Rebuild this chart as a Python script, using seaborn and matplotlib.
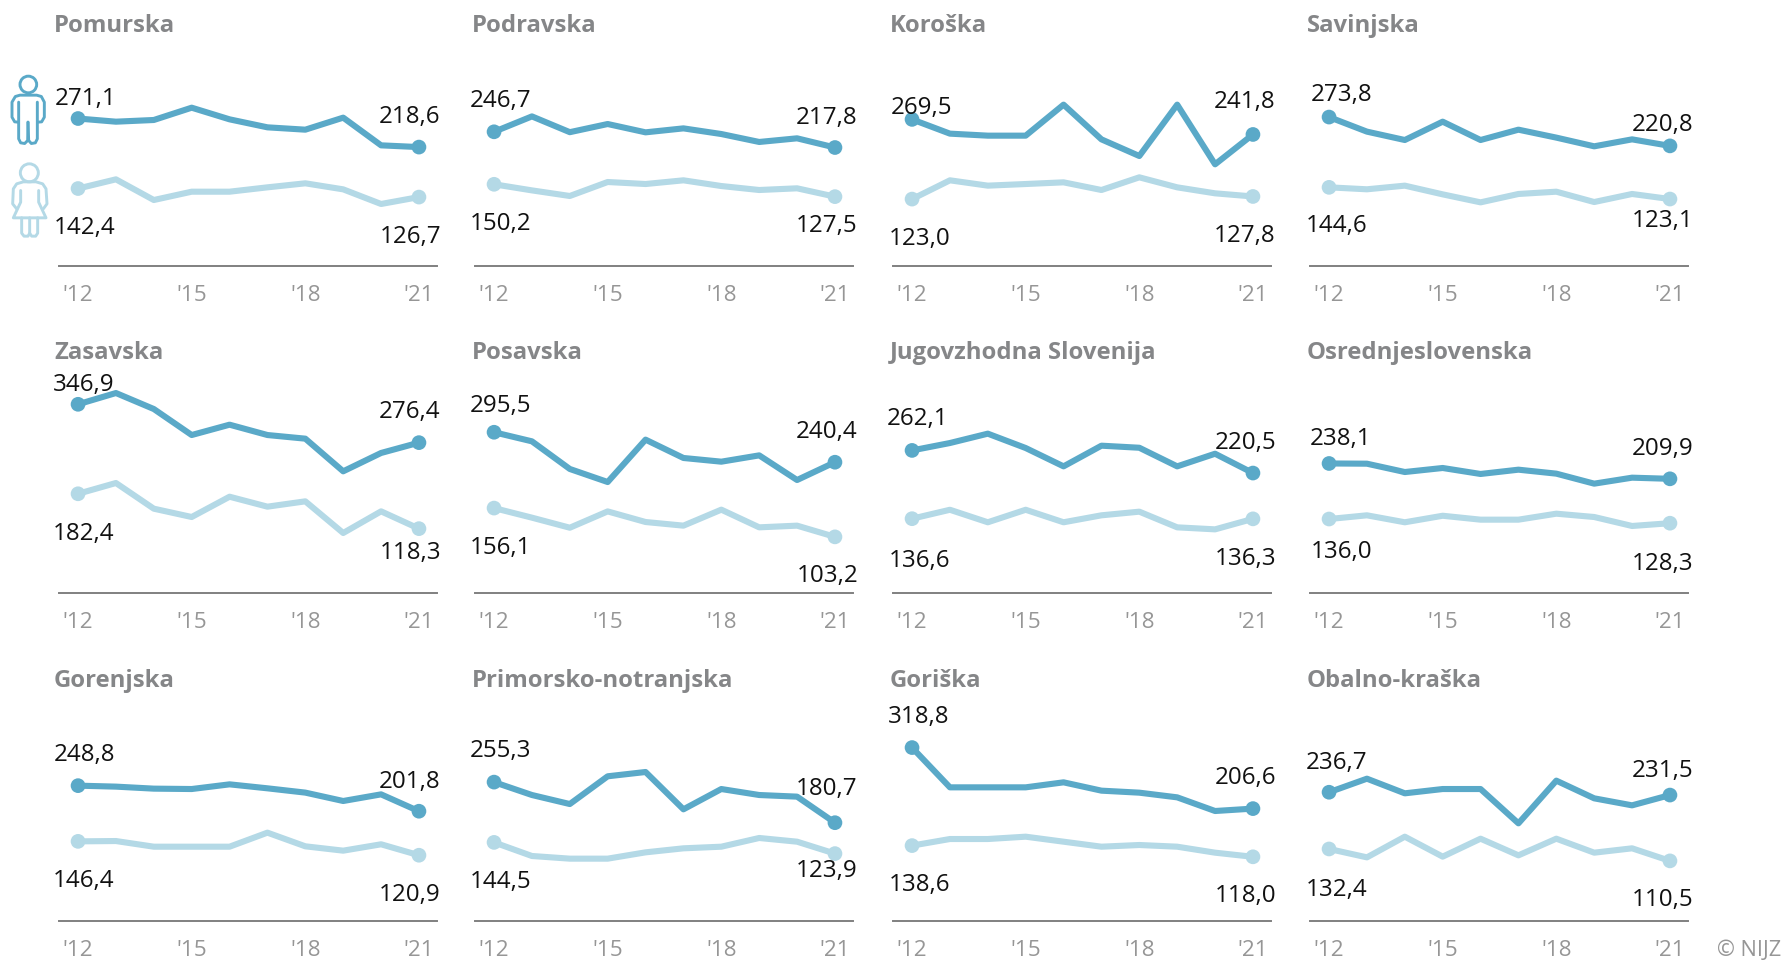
import pandas as pd
import matplotlib.pyplot as plt
from matplotlib.patches import Circle
import seaborn as sns

YEARS = [2012, 2013, 2014, 2015, 2016, 2017, 2018, 2019, 2020, 2021]
TICK_YEARS = [2012, 2015, 2018, 2021]
TICK_LABELS = ["'12", "'15", "'18", "'21"]

REGIONS = ["Pomurska", "Podravska", "Koroška", "Savinjska",
           "Zasavska", "Posavska", "Jugovzhodna Slovenija", "Osrednjeslovenska",
           "Gorenjska", "Primorsko-notranjska", "Goriška", "Obalno-kraška"]

MEN = [
    [271.1, 265.3, 268.4, 291.0, 269.6, 254.9, 250.6, 272.7, 221.8, 218.6],
    [246.7, 275.0, 246.0, 261.0, 245.7, 253.0, 242.6, 228.0, 234.7, 217.8],
    [269.5, 243.3, 239.6, 239.6, 296.6, 232.8, 202.2, 296.6, 186.9, 241.8],
    [273.8, 247.0, 231.6, 265.3, 231.6, 250.6, 236.0, 220.0, 232.8, 220.8],
    [346.9, 367.6, 338.2, 290.4, 309.4, 290.4, 283.7, 223.7, 257.4, 276.4],
    [295.5, 278.8, 228.0, 204.0, 281.9, 248.2, 241.4, 253.0, 207.7, 240.4],
    [262.1, 275.7, 292.9, 266.5, 232.8, 270.8, 267.0, 232.8, 256.0, 220.5],
    [238.1, 237.7, 222.4, 229.8, 218.8, 226.7, 219.4, 201.0, 212.0, 209.9],
    [248.8, 247.0, 243.3, 242.6, 251.2, 243.9, 236.0, 220.6, 232.8, 201.8],
    [255.3, 231.6, 215.0, 266.0, 273.9, 205.3, 242.6, 231.6, 228.6, 180.7],
    [318.8, 245.7, 245.7, 245.7, 254.9, 239.6, 235.9, 227.3, 202.2, 206.6],
    [236.7, 261.6, 234.7, 242.6, 242.6, 179.5, 258.0, 225.5, 212.6, 231.5],
]
WOMEN = [
    [142.4, 159.3, 121.3, 136.6, 136.6, 144.6, 152.0, 140.9, 114.0, 126.7],
    [150.2, 139.0, 128.7, 154.4, 150.7, 157.5, 147.0, 139.7, 142.8, 127.5],
    [123.0, 157.5, 147.7, 150.7, 153.8, 139.7, 163.0, 144.6, 133.6, 127.8],
    [144.6, 141.0, 147.7, 131.7, 117.0, 132.4, 136.6, 117.6, 132.4, 123.1],
    [182.4, 202.2, 155.0, 139.7, 177.0, 158.7, 168.5, 110.3, 150.1, 118.3],
    [156.1, 138.5, 120.0, 150.0, 130.5, 123.8, 153.2, 120.7, 123.8, 103.2],
    [136.6, 153.0, 130.0, 153.0, 130.0, 142.8, 149.5, 120.7, 117.0, 136.3],
    [136.0, 142.8, 130.0, 142.0, 134.8, 134.8, 145.8, 139.7, 123.2, 128.3],
    [146.4, 147.0, 136.6, 136.6, 136.6, 162.4, 137.3, 129.3, 141.0, 120.9],
    [144.5, 119.5, 114.6, 114.6, 126.2, 133.6, 136.6, 152.6, 145.8, 123.9],
    [138.6, 150.7, 150.7, 155.0, 145.8, 136.6, 139.7, 136.6, 125.6, 118.0],
    [132.4, 117.0, 155.0, 118.3, 151.3, 120.7, 151.3, 125.6, 133.6, 110.5],
]

# pixel offsets of the value labels from their point:
# men first, men last, women first, women last
LABEL_OFFSETS = [
    [(7.5, 14.5), (-9, 24.7), (6.2, -44.5), (-8, -44.5)],
    [(6.7, 25.4), (-8, 24.7), (7, -44.3), (-8, -34.3)],
    [(9.7, 6), (-8, 27.4), (7.5, -44.7), (-8, -45)],
    [(12.7, 17), (-7.3, 15.4), (7.7, -43.6), (-7.7, -27)],
    [(5.2, 14.7), (-9, 26), (5.7, -45.3), (-8.3, -29.3)],
    [(6.7, 21.4), (-8, 25.3), (6.3, -44.7), (-7.3, -44)],
    [(5.8, 26), (-7.7, 24.7), (7.5, -47), (-7.7, -44.7)],
    [(12, 19.3), (-7, 24.4), (13, -38.3), (-7, -45.6)],
    [(6, 25.7), (-9, 24), (6, -44.6), (-9, -45)],
    [(6, 26), (-8.5, 28.4), (7, -44.6), (-8.5, -22.6)],
    [(6.7, 25.7), (-7.7, 25.7), (7.3, -44.6), (-7.7, -44)],
    [(7.6, 24.4), (-7, 19.3), (7.6, -45.7), (-7, -44)],
]

W, H = 1785, 962
COL_LEFT = [59, 475, 893, 1310]
ROW_BOTTOM = [267, 594, 922]
AX_W = 378
AX_H = 217.6
DARK = "#5aa9c8"
LIGHT = "#b4d9e6"
PALETTE = {"men": DARK, "women": LIGHT}


def fmt(v):
    return f"{v:.1f}".replace(".", ",")


def draw_panel(ax, idx):
    df = pd.DataFrame({
        "year": YEARS * 2,
        "rate": MEN[idx] + WOMEN[idx],
        "sex": ["men"] * len(YEARS) + ["women"] * len(YEARS),
    })
    sns.lineplot(data=df, x="year", y="rate", hue="sex", palette=PALETTE, ax=ax,
                 legend=False, linewidth=4.4, errorbar=None, clip_on=False)
    ends = df[df["year"].isin([YEARS[0], YEARS[-1]])]
    sns.scatterplot(data=ends, x="year", y="rate", hue="sex", palette=PALETTE, ax=ax,
                    legend=False, s=112, linewidth=0, clip_on=False, zorder=3)

    ax.set_xlim(2012 - 19 / 37.78, 2021 + 18 / 37.78)
    ax.set_ylim(0, 400)
    ax.set_xticks(TICK_YEARS, TICK_LABELS)
    ax.set_yticks([])
    ax.set_xlabel("")
    ax.set_ylabel("")
    ax.tick_params(axis="x", length=0, pad=13.2, labelsize=16.2, labelcolor="#969696")
    ax.patch.set_alpha(0)
    sns.despine(ax=ax, left=True)
    ax.spines["bottom"].set_color("#808080")
    ax.spines["bottom"].set_linewidth(1.4)

    title_dx = -5 if idx % 4 == 0 else -3
    ax.annotate(REGIONS[idx], xy=(0, 0), xycoords="axes fraction",
                xytext=(title_dx, 235), textcoords="offset pixels",
                fontsize=17.2, fontweight="bold", color="#858688", va="baseline")

    points = [(YEARS[0], MEN[idx][0]), (YEARS[-1], MEN[idx][-1]),
              (YEARS[0], WOMEN[idx][0]), (YEARS[-1], WOMEN[idx][-1])]
    for (x, y), off in zip(points, LABEL_OFFSETS[idx]):
        ax.annotate(fmt(y), xy=(x, y), xytext=off, textcoords="offset pixels",
                    ha="center", va="baseline", fontsize=17.4, color="#111111",
                    annotation_clip=False, zorder=4)


def draw_icons(fig):
    # overlay in pixel coordinates, coordinates taken from 3x crop of the icons
    ov = fig.add_axes([0, 0, 1, 1], zorder=0)
    ov.set_xlim(0, W)
    ov.set_ylim(H, 0)
    ov.axis("off")

    def stroke(pts, color):
        ov.plot([p[0] / 3 for p in pts], [p[1] / 3 + 1.5 for p in pts], color=color,
                lw=2.1, solid_joinstyle="round", solid_capstyle="round")

    ov.add_patch(Circle((85 / 3, 252 / 3 + 1.5), 25 / 3, fill=False, ec=DARK, lw=2.1))
    stroke([(55, 365), (44, 364), (36, 350), (36, 305), (46, 288), (60, 284), (110, 284),
            (124, 288), (133, 305), (133, 350), (125, 364), (113, 365)], DARK)
    stroke([(56, 305), (56, 415), (62, 427), (74, 429), (83, 420), (84, 365)], DARK)
    stroke([(112, 305), (112, 415), (106, 427), (94, 429), (86, 420), (84, 365)], DARK)

    ov.add_patch(Circle((88 / 3, 517 / 3 + 1.5), 27 / 3, fill=False, ec=LIGHT, lw=2.1))
    stroke([(50, 625), (38, 610), (40, 565), (50, 550), (70, 544), (108, 544),
            (128, 550), (138, 565), (141, 610), (130, 625)], LIGHT)
    stroke([(62, 570), (62, 605), (40, 652), (138, 652), (116, 605), (116, 570)], LIGHT)
    stroke([(65, 652), (65, 698), (72, 707), (84, 707), (89, 698), (89, 652)], LIGHT)
    stroke([(89, 698), (95, 707), (107, 707), (113, 698), (113, 652)], LIGHT)


def main():
    sns.set_theme(style="white")
    plt.rcParams["font.family"] = ["Open Sans", "DejaVu Sans"]

    fig = plt.figure(figsize=(W / 100, H / 100), dpi=100)
    draw_icons(fig)

    for r, bottom in enumerate(ROW_BOTTOM):
        for c, left in enumerate(COL_LEFT):
            ax = fig.add_axes([left / W, 1 - bottom / H, AX_W / W, AX_H / H], zorder=1)
            draw_panel(ax, r * 4 + c)

    fig.text(1781 / W, 1 - 956.5 / H, "© NIJZ", ha="right", va="baseline",
             fontsize=15.6, color="#969696")
    fig.savefig("out.png", dpi=100)
    plt.close(fig)


if __name__ == "__main__":
    main()
